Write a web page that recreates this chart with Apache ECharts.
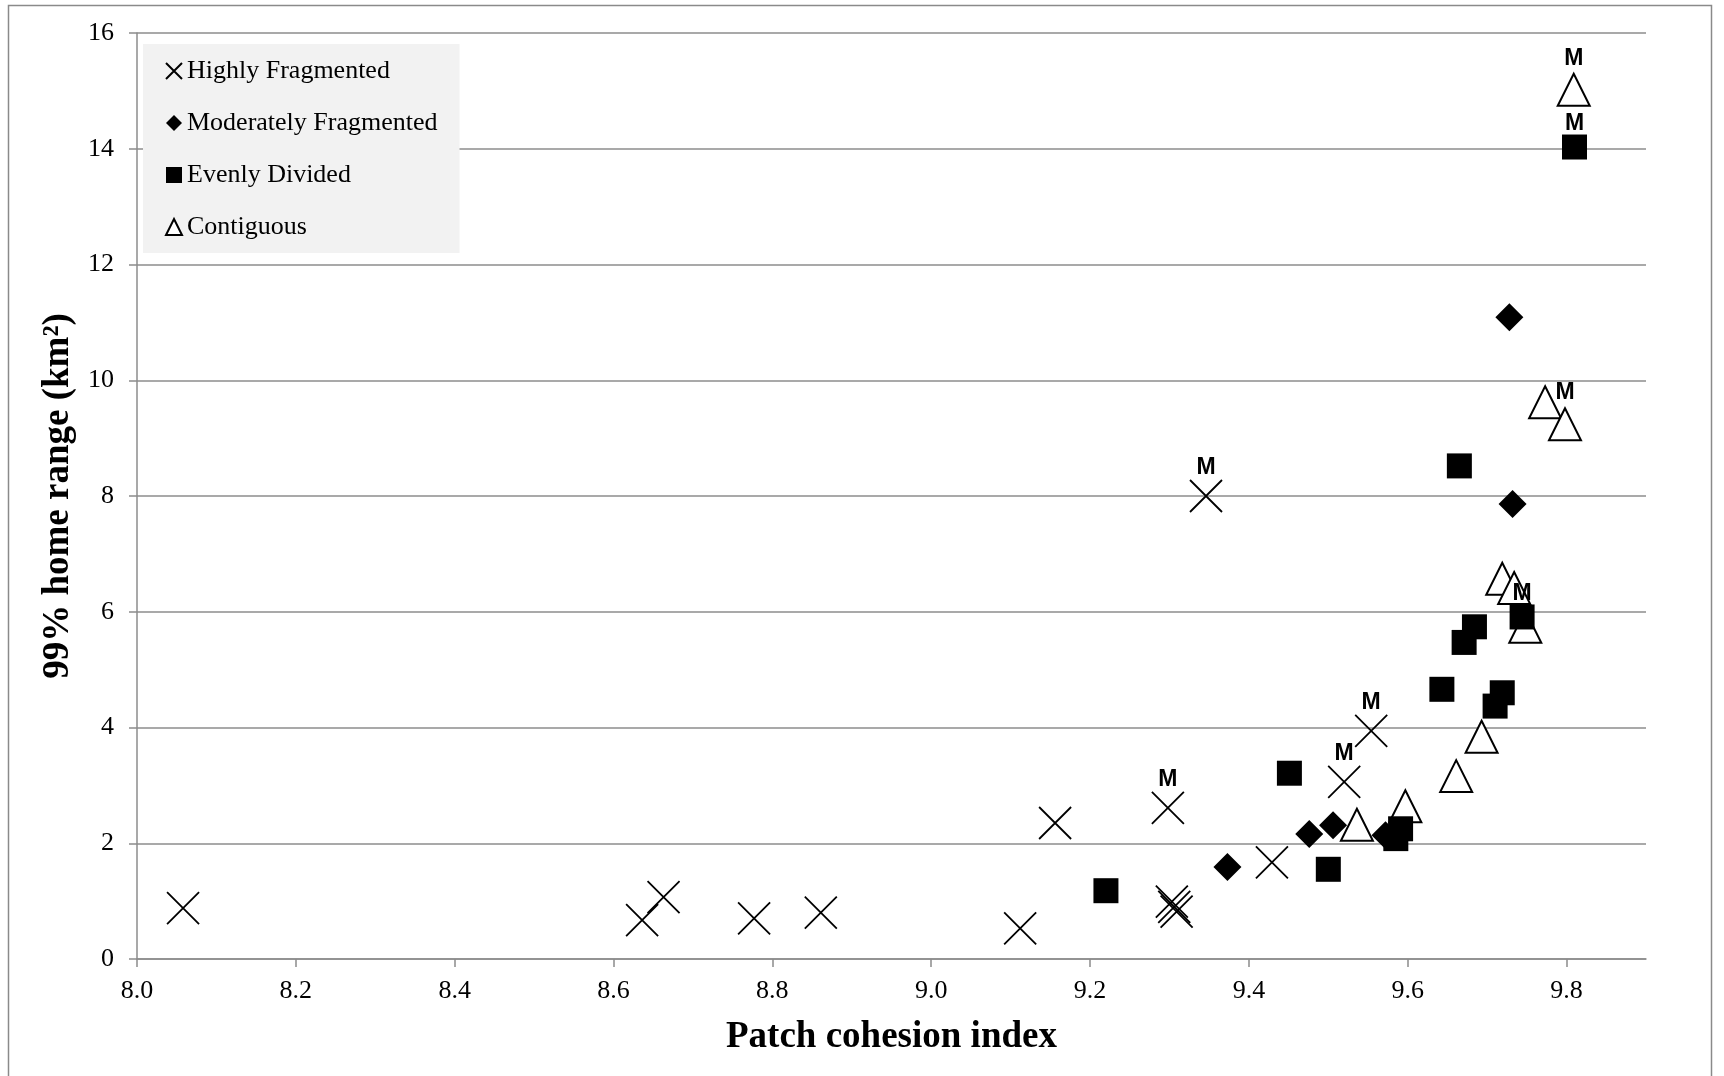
<!DOCTYPE html>
<html>
<head>
<meta charset="utf-8">
<script src="https://cdn.jsdelivr.net/npm/echarts@6.0.0/dist/echarts.min.js"></script>
<style>
  html, body { margin: 0; padding: 0; background: #fff; }
  #chart { width: 1724px; height: 1076px; }
</style>
</head>
<body>
<div id="chart"></div>
<script>
// tick labels
var xTicks = [8.0, 8.2, 8.4, 8.6, 8.8, 9.0, 9.2, 9.4, 9.6, 9.8];
var yTicks = [0, 2, 4, 6, 8, 10, 12, 14, 16];

// Highly Fragmented
var hfX = [8.058, 8.636, 8.663, 8.777, 8.861, 9.112, 9.156, 9.298, 9.303, 9.306, 9.309, 9.346, 9.429, 9.520, 9.554];
var hfY = [0.88, 0.67, 1.07, 0.70, 0.80, 0.53, 2.35, 2.61, 0.99, 0.90, 0.82, 8.00, 1.67, 3.06, 3.94];
var hfTag = ['', '', '', '', '', '', '', 'M', '', '', '', 'M', '', 'M', 'M'];

// Moderately Fragmented
var mfX = [9.373, 9.476, 9.506, 9.572, 9.728, 9.732];
var mfY = [1.59, 2.16, 2.31, 2.14, 11.09, 7.86];
var mfTag = ['', '', '', '', '', ''];

// Evenly Divided
var edX = [9.220, 9.451, 9.500, 9.585, 9.591, 9.643, 9.665, 9.671, 9.684, 9.710, 9.719, 9.744, 9.810];
var edY = [1.18, 3.21, 1.55, 2.08, 2.25, 4.66, 8.52, 5.47, 5.74, 4.37, 4.60, 5.91, 14.03];
var edTag = ['', '', '', '', '', '', '', '', '', '', '', 'M', 'M'];

// Contiguous
var coX = [9.536, 9.597, 9.661, 9.693, 9.719, 9.734, 9.748, 9.773, 9.798, 9.809];
var coY = [2.32, 2.64, 3.16, 3.84, 6.57, 6.41, 5.74, 9.62, 9.24, 15.02];
var coTag = ['', '', '', '', '', '', '', '', 'M', 'M'];

var serif = 'Liberation Serif, Times New Roman, serif';
var crossPath = 'path://M0,0L10,10M10,0L0,10';

function pts(xs, ys, tags) {
  return xs.map(function (x, i) {
    return { name: tags[i], value: [x, ys[i]], label: { show: tags[i] !== '' } };
  });
}

function mLabel(dist) {
  return {
    position: 'top',
    distance: dist,
    formatter: '{b}',
    color: '#000',
    fontFamily: 'Liberation Sans, Arial, sans-serif',
    fontWeight: 'bold',
    fontSize: 23
  };
}

var option = {
  animation: false,
  backgroundColor: '#fff',
  graphic: [{
    type: 'rect',
    silent: true,
    shape: { x: 8.5, y: 5.5, width: 1703, height: 1100 },
    style: { fill: 'none', stroke: '#8a8a8a', lineWidth: 1.5 }
  }],
  legend: {
    orient: 'vertical',
    left: 143,
    top: 44,
    padding: [14, 22, 13, 22],
    backgroundColor: '#f2f2f2',
    itemWidth: 16,
    itemHeight: 16,
    itemGap: 26,
    data: ['Highly Fragmented', 'Moderately Fragmented', 'Evenly Divided', 'Contiguous'],
    textStyle: { color: '#000', fontFamily: serif, fontSize: 26 }
  },
  grid: { left: 137, right: 78, top: 33, bottom: 117 },
  xAxis: {
    type: 'value',
    min: 8.0,
    max: 9.9,
    interval: 0.2,
    name: 'Patch cohesion index',
    nameLocation: 'middle',
    nameGap: 60,
    nameTextStyle: { color: '#000', fontFamily: serif, fontSize: 37, fontWeight: 'bold' },
    axisLine: { onZero: false, lineStyle: { color: '#8c8c8c', width: 1.5 } },
    axisTick: { show: true, length: 8, customValues: xTicks, lineStyle: { color: '#8c8c8c', width: 1.5 } },
    axisLabel: {
      customValues: xTicks,
      margin: 19,
      color: '#000',
      fontFamily: serif,
      fontSize: 26,
      formatter: function (v) { return v.toFixed(1); }
    },
    splitLine: { show: false }
  },
  yAxis: {
    type: 'value',
    min: 0,
    max: 16,
    interval: 2,
    name: '99% home range (km²)',
    nameLocation: 'middle',
    nameGap: 56,
    nameRotate: 90,
    nameTextStyle: { color: '#000', fontFamily: serif, fontSize: 37, fontWeight: 'bold' },
    axisLine: { show: true, lineStyle: { color: '#8c8c8c', width: 1.5 } },
    axisTick: { show: true, length: 8, customValues: yTicks, lineStyle: { color: '#8c8c8c', width: 1.5 } },
    axisLabel: { customValues: yTicks, margin: 23, color: '#000', fontFamily: serif, fontSize: 26 },
    splitLine: { show: true, lineStyle: { color: '#8c8c8c', width: 1.5 } }
  },
  series: [{
    name: 'Contiguous',
    type: 'scatter',
    symbol: 'triangle',
    symbolSize: 32,
    itemStyle: { color: '#fff', borderColor: '#000', borderWidth: 2, opacity: 1 },
    label: mLabel(3),
    data: pts(coX, coY, coTag)
  }, {
    name: 'Highly Fragmented',
    type: 'scatter',
    symbol: crossPath,
    symbolSize: 32,
    itemStyle: { color: 'rgba(0,0,0,0)', borderColor: '#000', borderWidth: 1.8, opacity: 1 },
    label: mLabel(0),
    data: pts(hfX, hfY, hfTag)
  }, {
    name: 'Moderately Fragmented',
    type: 'scatter',
    symbol: 'diamond',
    symbolSize: 28,
    itemStyle: { color: '#000', opacity: 1 },
    label: mLabel(4),
    data: pts(mfX, mfY, mfTag)
  }, {
    name: 'Evenly Divided',
    type: 'scatter',
    symbol: 'rect',
    symbolSize: 25,
    itemStyle: { color: '#000', opacity: 1 },
    label: mLabel(-1),
    data: pts(edX, edY, edTag)
  }]
};

var myChart = echarts.init(document.getElementById('chart'));
myChart.setOption(option, true);
</script>
</body>
</html>
